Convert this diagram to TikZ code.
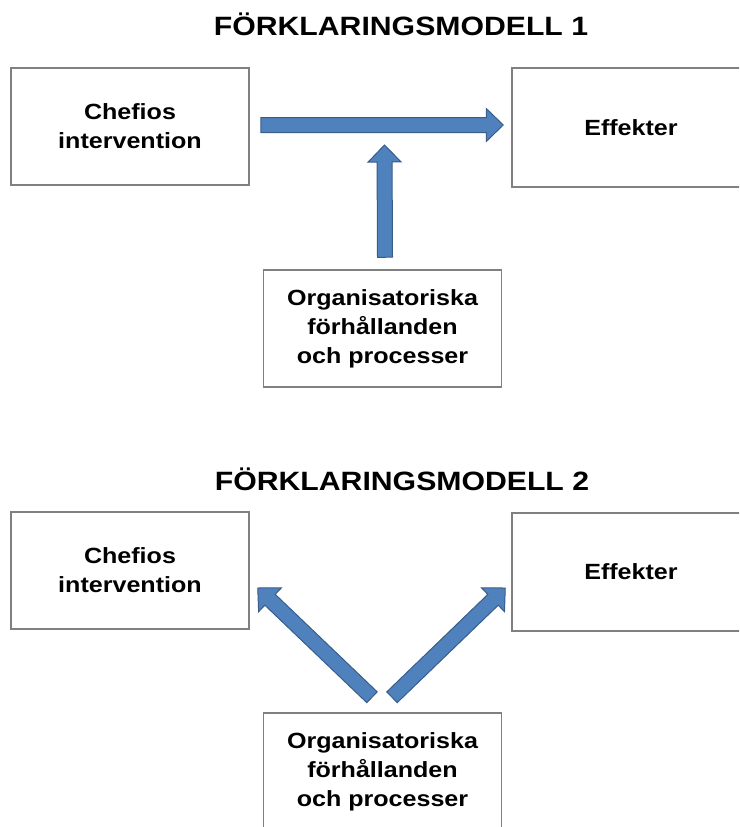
\documentclass[tikz,border=0pt]{standalone}
\usepackage{fontspec}
\setmainfont{Liberation Sans}[FakeStretch=1.14]
\usetikzlibrary{calc}

\definecolor{arrowblue}{HTML}{4F81BD}
\definecolor{arrowedge}{HTML}{385D8A}
\definecolor{boxgray}{HTML}{808080}

% block arrow from #1 (tail) to #2 (tip)
\newcommand\blockarr[2]{%
    \coordinate (ba-h) at ($(#2)!17pt!(#1)$);
    \draw[blockarrow] ($(#1)!7.5pt!90:(#2)$) -- ($(ba-h)!7.5pt!-90:(#1)$)
        -- ($(ba-h)!16.5pt!-90:(#1)$) -- (#2) -- ($(ba-h)!16.5pt!90:(#1)$)
        -- ($(ba-h)!7.5pt!90:(#1)$) -- ($(#1)!7.5pt!-90:(#2)$) -- cycle;}

\begin{document}
\begin{tikzpicture}[x=1pt, y=-1pt,
    box/.style={draw=boxgray, line width=1.5pt, fill=white, inner sep=0pt,
        minimum width=238pt, minimum height=117pt, align=center,
        font=\fontsize{22}{29}\selectfont\bfseries},
    heading/.style={anchor=base, inner sep=0pt,
        font=\fontsize{26.5}{30}\selectfont\bfseries},
    blockarrow/.style={fill=arrowblue, draw=arrowedge, line width=1pt}]
    \path[use as bounding box, clip] (0,0) rectangle (739,827);
% Model 1
    \node[heading] (title1) at (401,35) {FÖRKLARINGSMODELL 1};
    \node[box] (chefA) at (130,126.5) {Chefios\\intervention};
    \node[box, minimum height=119pt] (effA) at (631,127.5) {Effekter};
    \node[box] (orgA) at (382.5,328.5) {Organisatoriska\\förhållanden\\och processer};
    \coordinate (a1s) at ($(chefA.east)+(11,-1.5)$);
    \coordinate (a1e) at ($(effA.west)+(-8,-2.5)$);
    \coordinate (a2s) at ($(orgA.north)+(2.5,-12)$);
    \coordinate (a2e) at ($($(a1s)!.5!(a1e)$)+(2.5,20)$);
    \blockarr{a1s}{a1e}
    \blockarr{a2s}{a2e}
% Model 2
    \node[heading] (title2) at (402,490) {FÖRKLARINGSMODELL 2};
    \node[box] (chefB) at (130,570.5) {Chefios\\intervention};
    \node[box, minimum height=118pt] (effB) at (631,572) {Effekter};
    \node[box, minimum height=118pt] (orgB) at (382.5,772) {Organisatoriska\\förhållanden\\och processer};
    \coordinate (b1s) at ($(orgB.north)+(-10.5,-15)$);
    \coordinate (b1e) at ($(chefB.east)+(8,17.5)$);
    \coordinate (b2s) at ($(orgB.north)+(9.5,-15)$);
    \coordinate (b2e) at ($(effB.west)+(-6,16)$);
    \blockarr{b1s}{b1e}
    \blockarr{b2s}{b2e}
\end{tikzpicture}
\end{document}
